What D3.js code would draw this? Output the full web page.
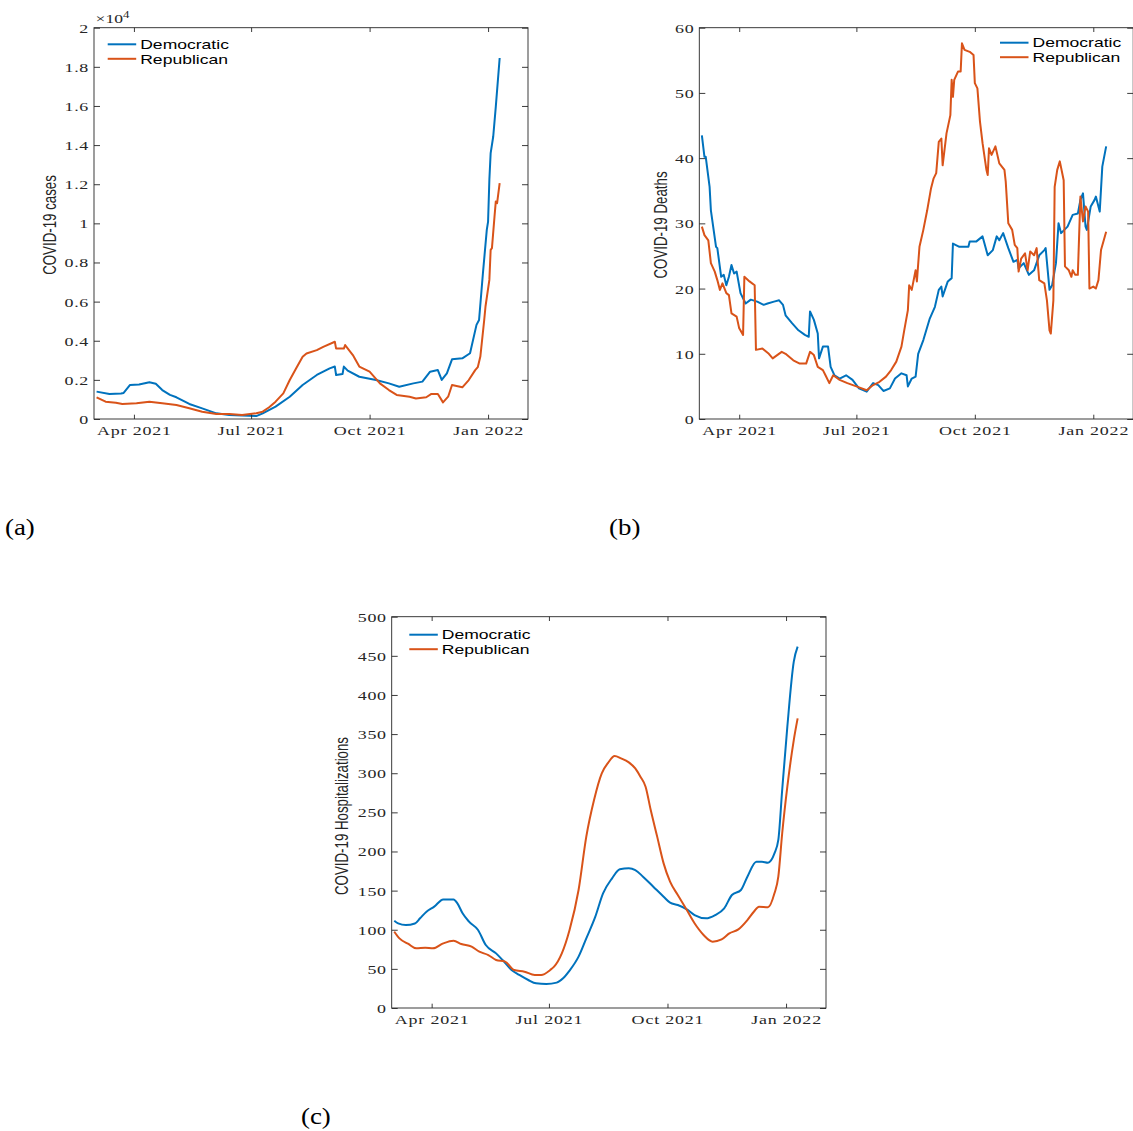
<!DOCTYPE html>
<html><head><meta charset="utf-8">
<script src="https://cdn.jsdelivr.net/npm/d3@7"></script>
<style>body{margin:0;background:#fff} svg{display:block}</style>
</head><body><svg id="fig" width="1133" height="1131"></svg>
<script>
// ---------------- DATA ----------------
const seriesNames = ["Democratic", "Republican"];
const xTickDates = ["2021-04-01", "2021-07-01", "2021-10-01", "2022-01-01"];
const xTickLabels = ["Apr 2021", "Jul 2021", "Oct 2021", "Jan 2022"];

const casesTicks = [0,2000,4000,6000,8000,10000,12000,14000,16000,18000,20000];
const casesTickLabels = ["0","0.2","0.4","0.6","0.8","1","1.2","1.4","1.6","1.8","2"];
const deathsTicks = [0,10,20,30,40,50,60];
const deathsTickLabels = ["0","10","20","30","40","50","60"];
const hospTicks = [0,50,100,150,200,250,300,350,400,450,500];
const hospTickLabels = ["0","50","100","150","200","250","300","350","400","450","500"];

const casesDem = [["2021-03-03",1400],["2021-03-13",1280],["2021-03-22",1300],["2021-03-24",1330],["2021-03-29",1740],["2021-04-05",1760],["2021-04-13",1880],["2021-04-18",1800],["2021-04-23",1480],["2021-04-29",1230],["2021-05-04",1110],["2021-05-14",770],["2021-05-24",545],["2021-06-04",290],["2021-06-14",205],["2021-06-24",175],["2021-07-05",150],["2021-07-10",290],["2021-07-20",630],["2021-07-31",1140],["2021-08-10",1740],["2021-08-21",2250],["2021-08-31",2590],["2021-09-04",2680],["2021-09-05",2250],["2021-09-10",2300],["2021-09-11",2680],["2021-09-14",2470],["2021-09-23",2160],["2021-10-06",1990],["2021-10-16",1820],["2021-10-24",1650],["2021-11-04",1820],["2021-11-11",1910],["2021-11-17",2420],["2021-11-23",2500],["2021-11-26",1995],["2021-11-30",2330],["2021-12-04",3050],["2021-12-12",3100],["2021-12-18",3360],["2021-12-23",4810],["2021-12-25",5060],["2021-12-28",7450],["2021-12-31",9670],["2022-01-01",10090],["2022-01-02",12230],["2022-01-03",13590],["2022-01-05",14440],["2022-01-07",15970],["2022-01-10",18450]];
const casesRep = [["2021-03-03",1110],["2021-03-10",885],["2021-03-18",830],["2021-03-23",767],["2021-04-03",800],["2021-04-13",885],["2021-04-23",800],["2021-05-04",716],["2021-05-14",545],["2021-05-24",375],["2021-06-04",255],["2021-06-14",255],["2021-06-24",205],["2021-07-05",290],["2021-07-10",375],["2021-07-15",600],["2021-07-20",885],["2021-07-26",1310],["2021-07-31",1995],["2021-08-05",2590],["2021-08-10",3180],["2021-08-13",3350],["2021-08-21",3520],["2021-08-26",3690],["2021-09-04",3950],["2021-09-05",3600],["2021-09-11",3600],["2021-09-12",3780],["2021-09-18",3270],["2021-09-23",2680],["2021-10-01",2420],["2021-10-09",1820],["2021-10-16",1480],["2021-10-22",1230],["2021-11-01",1140],["2021-11-06",1050],["2021-11-14",1110],["2021-11-18",1280],["2021-11-23",1280],["2021-11-27",850],["2021-12-01",1140],["2021-12-04",1740],["2021-12-12",1620],["2021-12-17",1990],["2021-12-22",2500],["2021-12-24",2650],["2021-12-26",3190],["2021-12-29",5060],["2021-12-30",5750],["2022-01-02",7110],["2022-01-03",8640],["2022-01-04",8730],["2022-01-06",10350],["2022-01-07",11120],["2022-01-08",11030],["2022-01-10",12060]];

const deathsDem = [["2021-03-03",43.5],["2021-03-05",40.2],["2021-03-06",40.2],["2021-03-09",35.6],["2021-03-10",32],["2021-03-14",26.4],["2021-03-15",26.2],["2021-03-18",21.8],["2021-03-20",22.1],["2021-03-22",20.5],["2021-03-24",21.8],["2021-03-26",23.6],["2021-03-28",22.3],["2021-03-30",22.6],["2021-04-02",19.3],["2021-04-06",17.7],["2021-04-10",18.3],["2021-04-15",18],["2021-04-20",17.5],["2021-04-23",17.7],["2021-04-28",18],["2021-05-02",18.2],["2021-05-05",17.5],["2021-05-07",15.9],["2021-05-12",14.7],["2021-05-17",13.6],["2021-05-22",12.9],["2021-05-25",12.6],["2021-05-26",16.5],["2021-05-29",15.2],["2021-06-01",13.1],["2021-06-02",9.3],["2021-06-05",11.1],["2021-06-09",11.1],["2021-06-11",8],["2021-06-14",6.7],["2021-06-18",6.2],["2021-06-23",6.7],["2021-06-28",6],["2021-07-03",4.7],["2021-07-09",4.2],["2021-07-14",5.5],["2021-07-18",5.2],["2021-07-22",4.3],["2021-07-27",4.7],["2021-07-31",6.2],["2021-08-05",7],["2021-08-09",6.7],["2021-08-10",5],["2021-08-13",6.2],["2021-08-16",6.5],["2021-08-18",10],["2021-08-22",12.1],["2021-08-27",15.4],["2021-08-31",17.2],["2021-09-03",19.8],["2021-09-05",20.3],["2021-09-06",18.8],["2021-09-10",21.1],["2021-09-13",21.6],["2021-09-14",26.9],["2021-09-19",26.4],["2021-09-26",26.4],["2021-09-27",27.2],["2021-10-02",27.2],["2021-10-07",28],["2021-10-11",25.1],["2021-10-15",25.9],["2021-10-18",28],["2021-10-20",27.4],["2021-10-23",28.5],["2021-10-27",26.2],["2021-10-31",24.1],["2021-11-03",24.4],["2021-11-04",23.1],["2021-11-08",23.9],["2021-11-12",22.1],["2021-11-16",22.8],["2021-11-20",25.1],["2021-11-24",25.9],["2021-11-25",26.2],["2021-11-28",19.8],["2021-11-30",20.5],["2021-12-03",23.9],["2021-12-05",30],["2021-12-07",28.5],["2021-12-12",29.5],["2021-12-16",31.3],["2021-12-20",31.5],["2021-12-22",33.6],["2021-12-24",34.6],["2021-12-26",29.5],["2021-12-27",29],["2021-12-30",32.6],["2022-01-02",33.6],["2022-01-03",34.1],["2022-01-06",31.8],["2022-01-08",38.7],["2022-01-11",41.8]];
const deathsRep = [["2021-03-03",29.5],["2021-03-05",28.2],["2021-03-08",27.4],["2021-03-10",23.9],["2021-03-13",22.6],["2021-03-15",21.3],["2021-03-17",19.8],["2021-03-19",20.8],["2021-03-22",19.3],["2021-03-24",19],["2021-03-26",16.2],["2021-03-30",15.7],["2021-04-01",13.9],["2021-04-04",12.9],["2021-04-05",21.8],["2021-04-09",21.1],["2021-04-13",20.5],["2021-04-14",10.6],["2021-04-19",10.8],["2021-04-24",10],["2021-04-27",9.3],["2021-05-04",10.3],["2021-05-07",10],["2021-05-13",9],["2021-05-18",8.5],["2021-05-23",8.5],["2021-05-26",10.3],["2021-05-29",9.8],["2021-06-01",8],["2021-06-05",7.5],["2021-06-07",6.7],["2021-06-10",5.5],["2021-06-13",6.7],["2021-06-18",6],["2021-06-24",5.5],["2021-07-01",5],["2021-07-09",4.4],["2021-07-14",5.2],["2021-07-19",5.7],["2021-07-24",6.5],["2021-07-28",7.5],["2021-08-01",8.8],["2021-08-05",11.1],["2021-08-07",13.4],["2021-08-10",16.7],["2021-08-11",20.5],["2021-08-13",19.8],["2021-08-16",22.8],["2021-08-17",21.1],["2021-08-19",26.4],["2021-08-22",29],["2021-08-25",32],["2021-08-28",35.4],["2021-08-30",36.9],["2021-09-01",37.7],["2021-09-03",42.5],["2021-09-05",43],["2021-09-06",38.9],["2021-09-09",43.8],["2021-09-12",46.6],["2021-09-13",52],["2021-09-14",49.4],["2021-09-15",52],["2021-09-18",53.3],["2021-09-20",53.3],["2021-09-21",57.6],["2021-09-23",56.6],["2021-09-27",56.3],["2021-09-30",55.8],["2021-10-01",51.5],["2021-10-03",50.7],["2021-10-05",45.6],["2021-10-07",42.3],["2021-10-10",38.2],["2021-10-11",37.4],["2021-10-12",41.5],["2021-10-14",40.5],["2021-10-17",41.8],["2021-10-20",39.2],["2021-10-24",38.2],["2021-10-25",36.4],["2021-10-27",30],["2021-10-30",29],["2021-11-01",26.7],["2021-11-03",26.2],["2021-11-04",22.6],["2021-11-06",24.6],["2021-11-09",25.4],["2021-11-11",22.8],["2021-11-13",25.7],["2021-11-16",25.1],["2021-11-18",26.2],["2021-11-20",21.3],["2021-11-24",20.8],["2021-11-26",18.2],["2021-11-28",13.6],["2021-11-29",13.1],["2021-12-01",18.2],["2021-12-02",35.6],["2021-12-04",38.2],["2021-12-06",39.5],["2021-12-09",36.6],["2021-12-10",23.4],["2021-12-13",22.8],["2021-12-15",21.8],["2021-12-16",22.8],["2021-12-18",22.1],["2021-12-20",22.1],["2021-12-22",34.1],["2021-12-24",30.3],["2021-12-26",32.6],["2021-12-28",31.8],["2021-12-29",20],["2022-01-01",20.3],["2022-01-03",20],["2022-01-05",21.3],["2022-01-07",25.9],["2022-01-11",28.7]];

const hospDem = [["2021-03-03",111.6],["2021-03-06",108.2],["2021-03-12",106],["2021-03-19",108],["2021-03-23",114.6],["2021-03-28",123],["2021-04-03",129.5],["2021-04-10",138.8],["2021-04-18",138.8],["2021-04-21",133.7],["2021-04-25",121],["2021-04-30",110.3],["2021-05-07",99.7],["2021-05-13",80.5],["2021-05-21",69.8],["2021-05-26",61.3],["2021-06-02",48.6],["2021-06-08",42.2],["2021-06-15",35.8],["2021-06-21",31.5],["2021-06-29",30.7],["2021-07-07",32.4],["2021-07-12",37.9],["2021-07-17",47.7],["2021-07-24",65.6],["2021-07-30",89],["2021-08-06",116.7],["2021-08-12",146.5],["2021-08-19",165.7],["2021-08-25",177.2],["2021-09-01",178.5],["2021-09-06",176.3],["2021-09-12",167.8],["2021-09-20",155],["2021-09-28",142.2],["2021-10-03",134.6],["2021-10-09",131.6],["2021-10-16",126],["2021-10-22",118.8],["2021-10-31",114.6],["2021-11-07",118.8],["2021-11-14",127.3],["2021-11-20",144.4],["2021-11-27",150.8],["2021-12-02",167.8],["2021-12-09",187],["2021-12-13",187],["2021-12-18",185.7],["2021-12-23",197.6],["2021-12-26",214.7],["2021-12-29",278.5],["2022-01-02",359.5],["2022-01-07",442.5],["2022-01-10",461.7]];
const hospRep = [["2021-03-03",97.5],["2021-03-07",89],["2021-03-14",81.8],["2021-03-20",76.2],["2021-03-27",77.1],["2021-04-02",76.2],["2021-04-10",82.6],["2021-04-18",86],["2021-04-24",81.8],["2021-05-02",78.4],["2021-05-08",72],["2021-05-15",67.7],["2021-05-21",61.3],["2021-05-28",59.2],["2021-06-04",48.6],["2021-06-12",46.4],["2021-06-20",42.2],["2021-06-25",42.2],["2021-07-02",48.6],["2021-07-05",52.8],["2021-07-11",69.8],["2021-07-17",99.7],["2021-07-24",150.8],["2021-07-30",219],["2021-08-05",265.8],["2021-08-11",299.8],["2021-08-16",313.5],["2021-08-21",322],["2021-08-26",319],["2021-09-01",313.9],["2021-09-06",306.2],["2021-09-10",295.6],["2021-09-14",282.8],["2021-09-18",253],["2021-09-23",219],["2021-09-28",184.8],["2021-10-03",161.4],["2021-10-09",144.4],["2021-10-16",125.2],["2021-10-22",108.2],["2021-10-29",93.3],["2021-11-05",84.8],["2021-11-12",87.7],["2021-11-18",95.4],["2021-11-25",100.5],["2021-12-02",112.4],["2021-12-07",123],["2021-12-11",129.5],["2021-12-18",128.6],["2021-12-23",146.5],["2021-12-26",167.8],["2021-12-29",223],["2022-01-02",282.8],["2022-01-07",342.4],["2022-01-10",370]];

// ---------------- DRAWING ----------------
const SX = 1.35;               // horizontal stretch of the original figure
const AX = "#262626";
const COLORS = ["#0072BD", "#D95319"];
const SERIF = "'Liberation Serif','DejaVu Serif',serif";
const SANS = "'Liberation Sans',Arial,Helvetica,sans-serif";
const svg = d3.select("#fig");
const parse = d3.utcParse("%Y-%m-%d");

function drawPanel(cfg) {
  const {L, T, R, B} = cfg.box;
  const g = svg.append("g");
  const x = d3.scaleUtc().domain([parse("2021-03-01"), parse("2022-02-01")]).range([L, R]);
  const y = d3.scaleLinear().domain(cfg.yDomain).range([B, T]);

  // lines
  const line = d3.line().x(d => x(parse(d[0]))).y(d => y(d[1]));
  if (cfg.curve) line.curve(cfg.curve);
  cfg.series.forEach((s, i) => {
    g.append("path").datum(s).attr("d", line)
      .attr("fill", "none").attr("stroke", COLORS[i])
      .attr("stroke-width", 2).attr("stroke-linejoin", "round");
  });

  const tickDates = xTickDates.map(parse);
  // axes
  const left = g.append("g").attr("transform", `translate(${L},0)`)
    .call(d3.axisLeft(y).tickValues(cfg.yTicks).tickFormat((d, i) => cfg.yTickLabels[i])
      .tickSizeInner(-6).tickSizeOuter(0));
  left.selectAll("text").attr("x", 0).attr("dy", null)
    .attr("transform", `translate(-5,4.5) scale(${SX},1)`)
    .attr("font-family", SERIF).attr("font-size", 13.3).attr("letter-spacing", 0.5)
    .attr("fill", AX).attr("text-anchor", "end");
  const right = g.append("g").attr("transform", `translate(${R},0)`)
    .call(d3.axisRight(y).tickValues(cfg.yTicks).tickFormat("").tickSizeInner(-6).tickSizeOuter(0));
  const bottom = g.append("g").attr("transform", `translate(0,${B})`)
    .call(d3.axisBottom(x).tickValues(tickDates).tickFormat((d, i) => xTickLabels[i])
      .tickSizeInner(-4.3).tickSizeOuter(0));
  bottom.selectAll("text").attr("y", 0).attr("dy", null)
    .attr("transform", `translate(0,16) scale(${SX},1)`)
    .attr("font-family", SERIF).attr("font-size", 13.3).attr("letter-spacing", 0.6)
    .attr("fill", AX);
  const top = g.append("g").attr("transform", `translate(0,${T})`)
    .call(d3.axisTop(x).tickValues(tickDates).tickFormat("").tickSizeInner(-4.3).tickSizeOuter(0));
  [left, right, bottom, top].forEach(a => {
    a.select(".domain").remove();
    a.selectAll("line").attr("stroke", AX).attr("stroke-width", 0.9);
  });
  g.append("rect").attr("x", L).attr("y", T).attr("width", R - L).attr("height", B - T)
    .attr("fill", "none").attr("stroke", AX).attr("stroke-width", 0.9);

  // y label
  g.append("text").text(cfg.ylabel)
    .attr("transform", `translate(${cfg.ylabelPos[0]},${cfg.ylabelPos[1]}) scale(${SX},1) rotate(-90)`)
    .attr("text-anchor", "middle").attr("font-family", SANS).attr("font-size", 13.3).attr("fill", AX);

  // multiplier
  if (cfg.multiplier) {
    const m = g.append("text")
      .attr("transform", `translate(${L + 1.5},${T - 4.5}) scale(${SX},1)`)
      .attr("font-family", SERIF).attr("font-size", 13).attr("fill", AX);
    m.append("tspan").text("×10");
    m.append("tspan").text(cfg.multiplier).attr("font-size", 9.5).attr("dy", -5.5);
  }

  // legend
  const [lx, ly] = cfg.legendPos;
  seriesNames.forEach((name, i) => {
    const yy = ly + i * 14.5;
    g.append("line").attr("x1", lx).attr("x2", lx + 28.5).attr("y1", yy).attr("y2", yy)
      .attr("stroke", COLORS[i]).attr("stroke-width", 2);
    g.append("text").text(name)
      .attr("transform", `translate(${lx + 32.5},${yy + 4.7}) scale(${SX},1)`)
      .attr("font-family", SANS).attr("font-size", 13).attr("fill", "#000");
  });

  // panel tag (not stretched)
  svg.append("text").text(cfg.tag)
    .attr("transform", `translate(${cfg.tagPos[0]},${cfg.tagPos[1]}) scale(1.12,1)`)
    .attr("font-family", SERIF).attr("font-size", 24).attr("fill", "#000");
}

drawPanel({
  box: {L: 94, T: 27.7, R: 528, B: 419},
  yDomain: [0, 20000], yTicks: casesTicks, yTickLabels: casesTickLabels,
  series: [casesDem, casesRep], ylabel: "COVID-19 cases", ylabelPos: [56, 225],
  multiplier: "4", legendPos: [107.7, 44.3], tag: "(a)", tagPos: [5, 535]
});
drawPanel({
  box: {L: 699.3, T: 27.7, R: 1133.2, B: 419},
  yDomain: [0, 60], yTicks: deathsTicks, yTickLabels: deathsTickLabels,
  series: [deathsDem, deathsRep], ylabel: "COVID-19 Deaths", ylabelPos: [667, 225],
  legendPos: [1000, 42.7], tag: "(b)", tagPos: [609, 535]
});
drawPanel({
  box: {L: 391.7, T: 616.7, R: 826, B: 1008},
  yDomain: [0, 500], yTicks: hospTicks, yTickLabels: hospTickLabels,
  series: [hospDem, hospRep], curve: d3.curveMonotoneX,
  ylabel: "COVID-19 Hospitalizations", ylabelPos: [347.5, 816],
  legendPos: [409.3, 634.7], tag: "(c)", tagPos: [301, 1124]
});
</script></body></html>
